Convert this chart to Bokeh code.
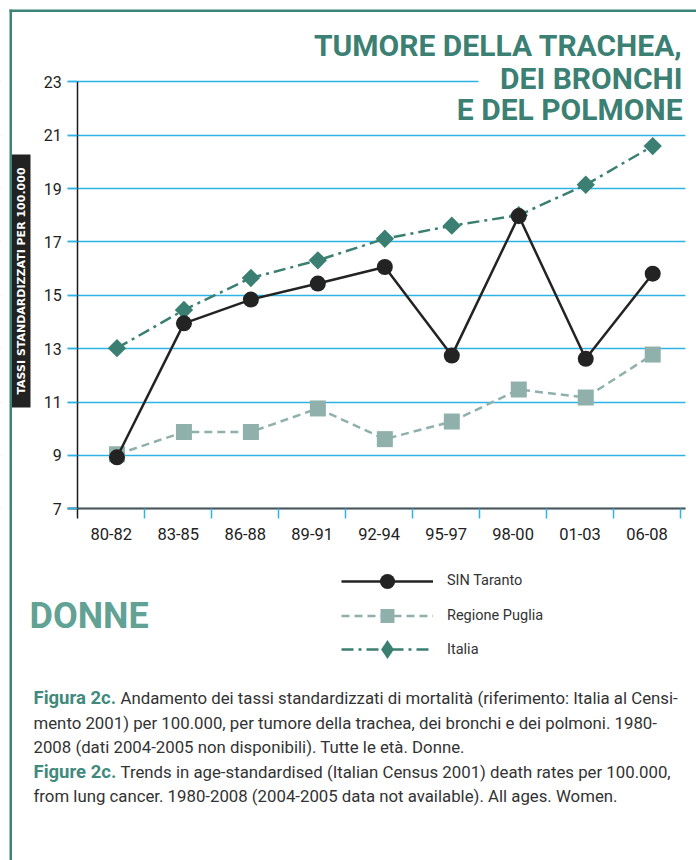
import numpy as np
from bokeh.plotting import figure
from bokeh.models import (Range1d, LinearAxis, FixedTicker, ColumnDataSource,
                          Label, BoxAnnotation, Legend, LegendItem, Grid)
from bokeh.transform import dodge
from bokeh.embed import file_html
from bokeh.resources import INLINE

# ---------------- data ----------------
periods = ["80-82", "83-85", "86-88", "89-91", "92-94", "95-97", "98-00", "01-03", "06-08"]
sin_taranto = [8.93, 13.95, 14.84, 15.44, 16.06, 12.74, 17.97, 12.62, 15.81]
regione_puglia = [9.04, 9.88, 9.88, 10.76, 9.61, 10.27, 11.47, 11.17, 12.78]
italia = [13.02, 14.45, 15.65, 16.31, 17.12, 17.61, 18.0, 19.14, 20.59]
y_ticks = [7, 9, 11, 13, 15, 17, 19, 21, 23]
series_names = ["SIN Taranto", "Regione Puglia", "Italia"]

title_lines = ["TUMORE DELLA TRACHEA,", "DEI BRONCHI", "E DEL POLMONE"]
y_label = "TASSI STANDARDIZZATI PER 100.000"
panel_label = "DONNE"
caption = [
    ("Figura 2c.", "Andamento dei tassi standardizzati di mortalità (riferimento: Italia al Censi-"),
    ("", "mento 2001) per 100.000, per tumore della trachea, dei bronchi e dei polmoni. 1980-"),
    ("", "2008 (dati 2004-2005 non disponibili). Tutte le età. Donne."),
    ("Figure 2c.", "Trends in age-standardised (Italian Census 2001) death rates per 100.000,"),
    ("", "from lung cancer. 1980-2008 (2004-2005 data not available). All ages. Women."),
]

# ---------------- styles / layout ----------------
FONT = "Roboto"
C_SIN = "#232323"
C_PUG = "#8fb0ab"
C_ITA = "#3a7f72"
C_GRID = "#2db3e6"
C_TITLE = "#3b8073"
C_DONNE = "#62a294"
C_FRAME = "#3d8478"
C_CAPB = "#3f8a7c"
C_TEXT = "#333333"

W, H = 696, 860
# chart area in page pixels: x 77.3..680 (9 categories), y 81.3 (=23) .. 508.3 (=7)
AX_L, AX_R, AX_T, AX_B = 77.3, 680.0, 81.3, 508.3
CW = (AX_R - AX_L) / len(periods)
PPU = (AX_B - AX_T) / (y_ticks[-1] - y_ticks[0])
PAGE_L, PAGE_R, PAGE_T, PAGE_B = 0.0, float(W), 0.0, float(H)

x_start = -(AX_L - PAGE_L) / CW
x_end = len(periods) + (PAGE_R - AX_R) / CW
y_start = y_ticks[0] - (PAGE_B - AX_B) / PPU
y_end = y_ticks[0] + (AX_B - PAGE_T) / PPU


def fx(x):  # page px -> frame screen units
    return x - PAGE_L


def fy(y):
    return PAGE_B - y


SCR = dict(left_units="screen", right_units="screen", top_units="screen", bottom_units="screen")

p = figure(width=W, height=H, x_range=Range1d(x_start, x_end), y_range=Range1d(y_start, y_end),
           x_axis_location=None, y_axis_location=None,
           output_backend="svg", toolbar_location=None, min_border=0,
           outline_line_color=None, background_fill_color="white", border_fill_color="white")
for r in list(p.center):
    r.visible = False

# grid (real grid, trimmed with white underlay boxes)
p.add_layout(Grid(dimension=1, ticker=FixedTicker(ticks=y_ticks), grid_line_color=C_GRID,
                  grid_line_width=1.5))
p.add_layout(BoxAnnotation(left=fx(PAGE_L - 5), right=fx(AX_L - 10), top=fy(AX_T - 8), bottom=fy(AX_B + 8),
                           fill_color="white", fill_alpha=1, line_color=None, level="underlay", **SCR))
p.add_layout(BoxAnnotation(left=fx(AX_R + 5), right=fx(PAGE_R + 5), top=fy(AX_T - 8), bottom=fy(AX_B + 8),
                           fill_color="white", fill_alpha=1, line_color=None, level="underlay", **SCR))
p.add_layout(BoxAnnotation(left=fx(478), right=fx(PAGE_R + 5), top=fy(AX_T - 5), bottom=fy(AX_T + 5),
                           fill_color="white", fill_alpha=1, line_color=None, level="underlay", **SCR))

# axes
yaxis = LinearAxis(ticker=FixedTicker(ticks=y_ticks), fixed_location=0,
                   bounds=(y_ticks[0] - 10 / PPU, y_ticks[-1]),
                   axis_line_color="#1a1a1a", axis_line_width=1.5,
                   major_tick_out=10, major_tick_in=0, major_tick_line_color=C_GRID,
                   major_tick_line_width=1.5, minor_tick_line_color=None,
                   major_label_standoff=6, major_label_text_font=FONT,
                   major_label_text_font_size="16px", major_label_text_color="#222222")
p.add_layout(yaxis, "left")

idx = np.arange(len(periods))
centers = [float(i) + 0.5 for i in idx]
bounds = [float(i) + 1 for i in idx]
xaxis = LinearAxis(ticker=FixedTicker(ticks=centers, minor_ticks=bounds), fixed_location=y_ticks[0],
                   bounds=(-10 / CW, len(periods) + 5 / CW),
                   major_label_overrides={c: lab for c, lab in zip(centers, periods)},
                   axis_line_color="#555555", axis_line_width=2,
                   major_tick_line_color=None, major_tick_out=0, major_tick_in=0,
                   minor_tick_out=10, minor_tick_in=0, minor_tick_line_color=C_GRID,
                   minor_tick_line_width=1.5,
                   major_label_standoff=9, major_label_text_font=FONT,
                   major_label_text_font_size="16.5px", major_label_text_color="#222222")
p.add_layout(xaxis, "below")

# data
src = ColumnDataSource(dict(period=periods, xc=centers, sin=sin_taranto, puglia=regione_puglia,
                            italia=italia))
xd = dodge("xc", 0.085)

pug_line = p.line(xd, "puglia", source=src, line_color=C_PUG, line_width=2.5, line_dash="8 5")
pug_pts = p.scatter(xd, "puglia", source=src, marker="square", size=16, fill_color=C_PUG, line_color=None)
ita_line = p.line(xd, "italia", source=src, line_color=C_ITA, line_width=2.5, line_dash="12 5 3 5")
ita_pts = p.scatter(xd, "italia", source=src, marker="square", angle=np.pi / 4, size=13,
                    fill_color=C_ITA, line_color=None)
sin_line = p.line(xd, "sin", source=src, line_color=C_SIN, line_width=2.5)
sin_pts = p.scatter(xd, "sin", source=src, marker="circle", size=16, fill_color=C_SIN, line_color=None)
# legend swatch for Italia: legend markers are never rotated, so use a diamond marker
# (size 0 in the plot itself; the legend sizes its swatch from the glyph box)
ita_key = p.scatter(xd, "italia", source=src, marker="diamond", size=0, fill_color=C_ITA,
                    line_color=None)

# legend: one single-row legend per series, stacked like the reference
legend_rows = [([sin_line, sin_pts], 580.7, 38),
               ([pug_line, pug_pts], 615.0, 35),
               ([ita_line, ita_key], 649.0, 48)]
for name, (rends, yc, gh) in zip(series_names, legend_rows):
    p.add_layout(Legend(items=[LegendItem(label=name, renderers=rends)],
                        location=(fx(341), fy(yc + gh / 2)), orientation="vertical",
                        glyph_width=92, glyph_height=gh, spacing=0, label_standoff=14,
                        padding=0, margin=0, border_line_color=None, background_fill_alpha=0,
                        label_text_font=FONT, label_text_font_size="14.5px",
                        label_text_color=C_TEXT))

# page frame (teal rules)
p.add_layout(BoxAnnotation(left=fx(9), right=fx(11.5), top=fy(9), bottom=fy(880),
                           fill_color=C_FRAME, fill_alpha=1, line_color=None, **SCR))
p.add_layout(BoxAnnotation(left=fx(9), right=fx(710), top=fy(9), bottom=fy(11.5),
                           fill_color=C_FRAME, fill_alpha=1, line_color=None, **SCR))

# title
for line, base in zip(title_lines, [45, 77.5, 109]):
    p.add_layout(Label(x=fx(682), y=fy(base), x_units="screen", y_units="screen", text=line,
                       text_align="right", text_baseline="alphabetic", text_font=FONT,
                       text_font_style="bold", text_font_size="30px", text_color=C_TITLE))

# vertical y label on dark box
p.add_layout(BoxAnnotation(left=fx(11.5), right=fx(30), top=fy(154), bottom=fy(407),
                           fill_color="#222222", fill_alpha=1, line_color=None, **SCR))
p.add_layout(Label(x=fx(21), y=fy(280.5), x_units="screen", y_units="screen", text=y_label,
                   angle=np.pi / 2, text_align="center", text_baseline="middle",
                   text_font="DejaVu Sans", text_font_style="bold", text_font_size="11px",
                   text_color="white"))

# DONNE
p.add_layout(Label(x=fx(29), y=fy(615), x_units="screen", y_units="screen", text=panel_label,
                   text_align="left", text_baseline="alphabetic", text_font=FONT,
                   text_font_style="bold", text_font_size="36px", text_color=C_DONNE))

# caption
for (bold, rest), yc in zip(caption, [697, 722, 746, 771, 795]):
    if bold:
        p.add_layout(Label(x=fx(33), y=fy(yc), x_units="screen", y_units="screen", text=bold,
                           text_align="left", text_baseline="middle", text_font=FONT,
                           text_font_style="bold", text_font_size="18.5px", text_color=C_CAPB))
        x0 = 120
    else:
        x0 = 33
    p.add_layout(Label(x=fx(x0), y=fy(yc), x_units="screen", y_units="screen", text=rest,
                       text_align="left", text_baseline="middle", text_font=FONT,
                       text_font_size="16.8px", text_color=C_TEXT))

open("out.html", "w").write(file_html(p, INLINE))
